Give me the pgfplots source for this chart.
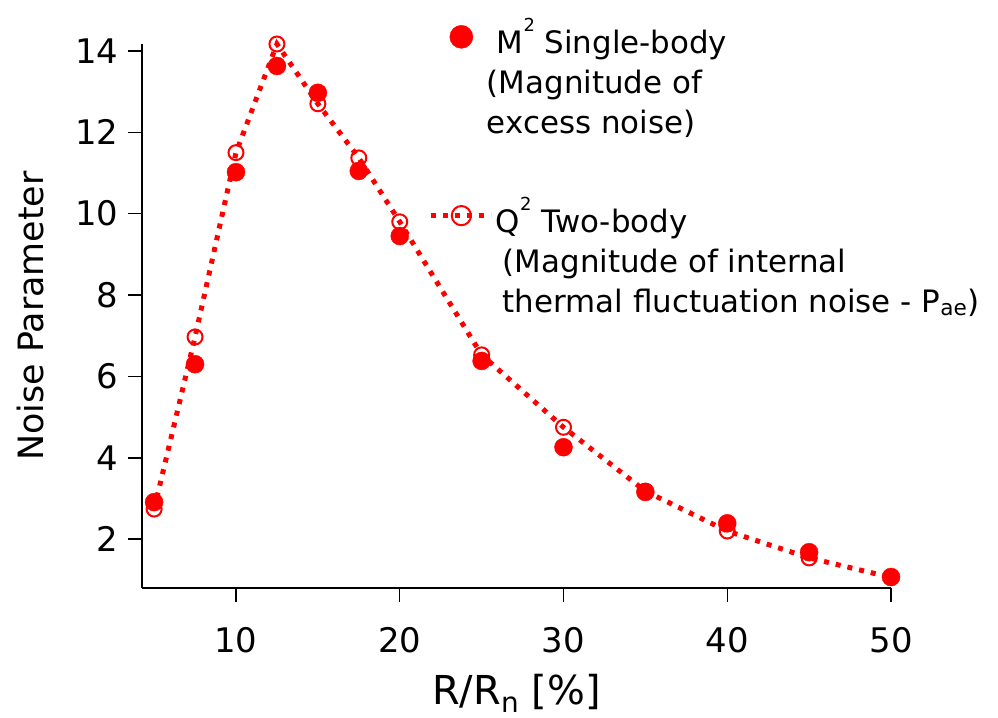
\documentclass[border=0pt]{standalone}
\usepackage{fontspec}
\setmainfont{DejaVu Sans}
\usepackage{pgfplots}
\usepackage{pgfplotstable}
\pgfplotsset{compat=1.18}

\definecolor{noisered}{RGB}{255,0,0}

% R/Rn [%], single-body M^2, two-body Q^2
\pgfplotstableread{
x    M      Q
5    2.91   2.74
7.5  6.30   6.97
10   11.02  11.50
12.5 13.63  14.17
15   12.97  12.70
17.5 11.05  11.37
20   9.45   9.80
25   6.38   6.53
30   4.26   4.75
35   3.16   3.18
40   2.39   2.20
45   1.68   1.54
50   1.07   1.06
}\noisedata

\newcommand{\sq}{\raisebox{22bp}{\fontsize{18}{18}\selectfont 2}}

\begin{document}
\begin{tikzpicture}
\useasboundingbox (0,0) rectangle (998bp,718bp);
\begin{axis}[
  at={(142bp,130bp)}, anchor=south west,
  scale only axis, width=749bp, height=544bp,
  xmin=4.26, xmax=50, ymin=0.8, ymax=14.17,
  clip=false,
  axis lines=left,
  axis line style={-, line width=1.5bp, black},
  every tick/.style={black, line width=1.5bp},
  tick align=outside,
  major tick length=14bp,
  xtick={10,20,30,40,50},
  ytick={2,4,6,8,10,12,14},
  /pgf/number format/assume math mode=true,
  tick label style={font=\fontsize{34}{40}\selectfont},
  xticklabel style={yshift=-22bp},
  yticklabel style={xshift=-6bp},
  xlabel={R/R\textsubscript{n} [\%]},
  xlabel style={font=\fontsize{40}{46}\selectfont,
    at={(axis description cs:0.5,-0.215)}, anchor=base},
  ylabel={Noise Parameter},
  ylabel style={font=\fontsize{35}{42}\selectfont,
    at={(axis description cs:-0.131,0.5)}, anchor=base},
  legend style={
    draw=none, fill=none, inner sep=0pt, outer sep=0pt,
    at={(0.383,1.047)}, anchor=north west,
    column sep=0bp, row sep=142bp,
    nodes={inner sep=0pt},
    font=\fontsize{31}{40}\selectfont,
  },
  legend cell align=left,
  legend image code/.code={%
    \draw[mark repeat=2, mark phase=2, #1, every mark/.append style={scale=1.28}]
      plot coordinates {(0bp,0bp) (30bp,0bp) (60bp,0bp)};},
]
\addplot[only marks, mark=*, mark size=9bp, color=noisered, fill=noisered]
  table[x=x, y=M] {\noisedata};
\addlegendentry{\begin{tabular}[t]{@{}l@{}}\hspace{3bp}M\sq{} Single-body\\\hspace{-7bp}(Magnitude of\\\hspace{-7bp}excess noise)\end{tabular}}
\addplot[color=noisered, line width=5bp, dash pattern=on 5bp off 7bp,
  mark=o, mark size=7.5bp, mark options={solid, line width=2bp}]
  table[x=x, y=Q] {\noisedata};
\addlegendentry{\begin{tabular}[t]{@{}l@{}}\hspace{2bp}Q\sq{} Two-body\\\hspace{9bp}(Magnitude of internal\\\hspace{9bp}thermal fluctuation noise - P\textsubscript{ae})\end{tabular}}
\end{axis}
\end{tikzpicture}
\end{document}
